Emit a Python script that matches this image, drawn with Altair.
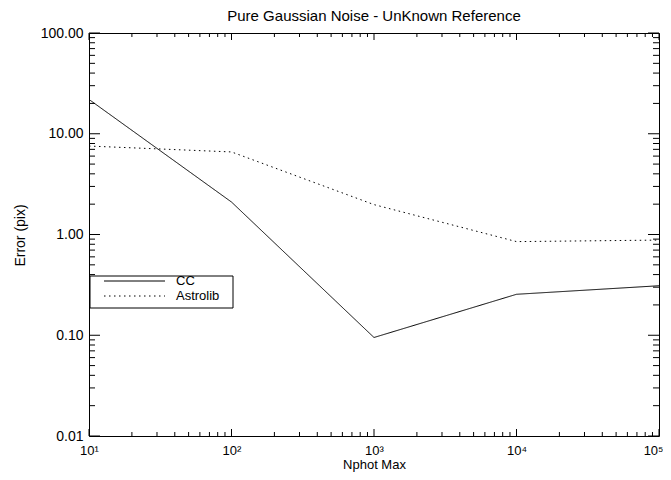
import altair as alt
import pandas as pd

# ---- data ----
nphot = [10, 100, 1000, 10000, 100000]
err_cc = [21.9, 2.1, 0.095, 0.255, 0.31]
err_astrolib = [7.55, 6.6, 1.98, 0.85, 0.88]
series_names = ["CC", "Astrolib"]

x_major = [10, 100, 1000, 10000, 100000]
x_minor = [m * 10 ** e for e in range(1, 5) for m in range(2, 10)]
y_major = [0.01, 0.1, 1, 10, 100]
y_minor = [round(m * 10.0 ** e, 4) for e in range(-2, 2) for m in range(2, 10)]

title_text = "Pure Gaussian Noise - UnKnown Reference"
x_title = "Nphot Max"
y_title = "Error (pix)"

W, H = 570, 403
FONT = "Liberation Sans"

rows = []
for name, vals in zip(series_names, [err_cc, err_astrolib]):
    for x, y in zip(nphot, vals):
        rows.append({"nphot": x, "error": y, "series": name})
df = pd.DataFrame(rows)

xs = alt.Scale(type="log", domain=[10, 100000], nice=False)
ys = alt.Scale(type="log", domain=[0.01, 100], nice=False)

sup_expr = ("datum.value == 10 ? '10\u00b9' : datum.value == 100 ? '10\u00b2' : "
            "datum.value == 1000 ? '10\u00b3' : datum.value == 10000 ? '10\u2074' : '10\u2075'")

xaxis = alt.Axis(values=x_major, labelExpr=sup_expr, ticks=False, tickSize=0, domain=False,
                 grid=False, labelPadding=8, labelFontSize=13, labelFont=FONT,
                 labelColor="black", title=x_title, titleFont=FONT, titleFontSize=13,
                 titleFontWeight="normal", titleColor="black", titleY=28,
                 titleBaseline="middle", labelFlush=False,
                 labelAlign={"condition": {"test": "datum.value >= 100000", "value": "right"},
                             "value": "center"},
                 labelOffset={"condition": {"test": "datum.value >= 100000", "value": 4},
                              "value": 0})
yaxis = alt.Axis(values=y_major, format=".2f", ticks=False, tickSize=0, domain=False,
                 grid=False, labelPadding=6, labelFontSize=14, labelFont=FONT,
                 labelColor="black", title=y_title, titleFont=FONT, titleFontSize=14,
                 titleFontWeight="normal", titleColor="#000000", titleX=-69, titleY=202,
                 titleAngle=-90, titleBaseline="middle", labelFlush=False)

lines = alt.Chart(df).mark_line(color="black", strokeWidth=1, clip=True).encode(
    x=alt.X("nphot:Q", scale=xs, axis=xaxis),
    y=alt.Y("error:Q", scale=ys, axis=yaxis),
    strokeDash=alt.StrokeDash("series:N",
                              scale=alt.Scale(domain=series_names, range=[[1, 0], [1.5, 3.5]]),
                              legend=None),
    detail="series:N",
)

def xticks(vals, length):
    d = pd.DataFrame({"v": vals})
    bottom = alt.Chart(d).mark_rule(color="black", strokeWidth=1).encode(
        x=alt.X("v:Q", scale=xs, axis=xaxis), y=alt.value(H), y2=alt.value(H - length))
    top = alt.Chart(d).mark_rule(color="black", strokeWidth=1).encode(
        x=alt.X("v:Q", scale=xs, axis=xaxis), y=alt.value(0), y2=alt.value(length))
    return [bottom, top]

def yticks(vals, length):
    d = pd.DataFrame({"v": vals})
    left = alt.Chart(d).mark_rule(color="black", strokeWidth=1).encode(
        y=alt.Y("v:Q", scale=ys, axis=yaxis), x=alt.value(0), x2=alt.value(length))
    right = alt.Chart(d).mark_rule(color="black", strokeWidth=1).encode(
        y=alt.Y("v:Q", scale=ys, axis=yaxis), x=alt.value(W), x2=alt.value(W - length))
    return [left, right]

tick_layers = xticks(x_major, 7) + xticks(x_minor, 4) + yticks(y_major, 11) + yticks(y_minor, 6)

# ---- legend box (IDL style) ----
one = pd.DataFrame({"a": [0]})
legend_layers = [
    alt.Chart(one).mark_rect(fill="white", stroke="black", strokeWidth=1).encode(
        x=alt.value(1), x2=alt.value(144), y=alt.value(243), y2=alt.value(275))
]
dashes = [[1, 0], [1.5, 3.5]]
for i, name in enumerate(series_names):
    yy = 248 + 15 * i
    legend_layers.append(
        alt.Chart(one).mark_rule(color="black", strokeWidth=1, strokeDash=dashes[i]).encode(
            x=alt.value(15), x2=alt.value(76), y=alt.value(yy)))
    legend_layers.append(
        alt.Chart(one).mark_text(text=name, align="left", baseline="middle", font=FONT,
                                 fontSize=13, color="black").encode(
            x=alt.value(87), y=alt.value(yy)))

chart = alt.layer(lines, *tick_layers, *legend_layers).properties(
    width=W, height=H,
    title=alt.Title(title_text, font=FONT, fontSize=15, fontWeight="normal",
                    color="black", offset=2, anchor="middle"),
    autosize=alt.AutoSizeParams(type="none"),
    padding={"left": 81, "top": 25, "right": 4, "bottom": 36},
).configure(background="white").configure_view(stroke="black", strokeWidth=1)

chart.save("out.html", embed_options={"renderer": "svg", "actions": False})
